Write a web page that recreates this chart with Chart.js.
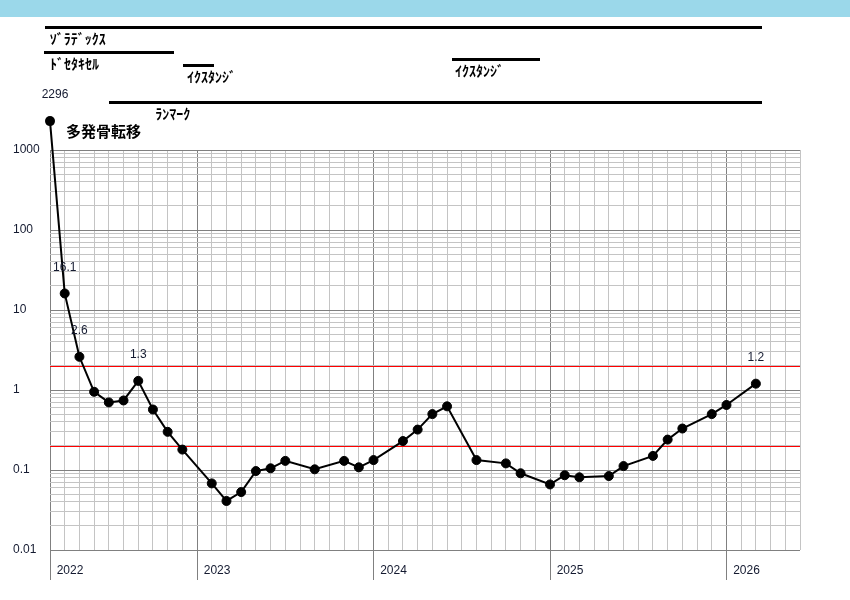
<!DOCTYPE html>
<html>
<head>
<meta charset="utf-8">
<script src="https://cdn.jsdelivr.net/npm/chart.js@4.4.1/dist/chart.umd.min.js"></script>
<style>
  body { margin: 0; background: #fff; }
  #wrap { width: 850px; height: 600px; }
</style>
</head>
<body>
<div id="wrap"><canvas id="chart" width="850" height="600"></canvas></div>
<script>
// months from the axis start (2022-03)
const startYear = 2022, startMonth = 3;
const dates = ['2022-03','2022-04','2022-05','2022-06','2022-07','2022-08','2022-09','2022-10','2022-11','2022-12',
  '2023-02','2023-03','2023-04','2023-05','2023-06','2023-07','2023-09','2023-11','2023-12',
  '2024-01','2024-03','2024-04','2024-05','2024-06','2024-08','2024-10','2024-11',
  '2025-01','2025-02','2025-03','2025-05','2025-06','2025-08','2025-09','2025-10','2025-12',
  '2026-01','2026-03'];
const psa = [2296, 16.1, 2.6, 0.95, 0.70, 0.74, 1.3, 0.57, 0.30, 0.18,
  0.068, 0.041, 0.053, 0.097, 0.105, 0.13, 0.102, 0.13, 0.108,
  0.133, 0.23, 0.32, 0.50, 0.625, 0.133, 0.121, 0.091,
  0.066, 0.086, 0.081, 0.084, 0.112, 0.15, 0.24, 0.33, 0.50,
  0.65, 1.2];
const labelled = [0, 1, 2, 6, 37];   // points with a value label
const refLevels = [2, 0.2];
const yDecades = [0.01, 0.1, 1, 10, 100, 1000];
const axisMonths = 51;

// treatments (start / end in months from axis start)
const txNames = ['ｿﾞﾗﾃﾞｯｸｽ', 'ﾄﾞｾﾀｷｾﾙ', 'ｲｸｽﾀﾝｼﾞ', 'ｲｸｽﾀﾝｼﾞ', 'ﾗﾝﾏｰｸ'];
const txStart = [-0.35, -0.4, 9.05, 27.33, 4.03];
const txEnd = [48.4, 8.43, 11.15, 33.32, 48.4];
const note = '多発骨転移';

function monthIndex(d) {
  const [y, m] = d.split('-').map(Number);
  return (y - startYear) * 12 + (m - startMonth);
}
function isYearTick(v) {
  return v === 0 || (v + startMonth - 1) % 12 === 0;
}
function isDecade(v) {
  const l = Math.log10(v);
  return Math.abs(l - Math.round(l)) < 1e-9;
}

const points = dates.map((d, i) => ({ x: monthIndex(d), y: psa[i] }));

const txRows = [27, 52, 65, 59, 102];
const txLabelDx = [5, 6, 4, 3, 46];

const overlay = {
  id: 'overlay',
  beforeDraw(chart) {
    const c = chart.ctx;
    c.save();
    c.fillStyle = '#9bd8ea';
    c.fillRect(0, 0, chart.width, 17);
    c.restore();
  },
  beforeDatasetsDraw(chart) {
    // reference lines
    const c = chart.ctx, y = chart.scales.y, a = chart.chartArea;
    c.save();
    c.strokeStyle = '#ff0000';
    c.lineWidth = 1;
    refLevels.forEach(v => {
      const py = Math.round(y.getPixelForValue(v)) + 0.5;
      c.beginPath();
      c.moveTo(a.left, py);
      c.lineTo(a.right, py);
      c.stroke();
    });
    c.restore();
  },
  afterDatasetsDraw(chart) {
    // points above the plot area are skipped by Chart.js, draw them here
    const c = chart.ctx, a = chart.chartArea;
    const meta = chart.getDatasetMeta(0);
    c.save();
    c.fillStyle = '#000';
    meta.data.forEach(p => {
      if (p.y < a.top) {
        c.beginPath();
        c.arc(p.x, p.y, 5, 0, Math.PI * 2);
        c.fill();
      }
    });
    c.restore();
  },
  afterDraw(chart) {
    const c = chart.ctx, x = chart.scales.x, y = chart.scales.y;
    c.save();
    // treatment bars
    c.fillStyle = '#000';
    c.font = 'bold 14px "Noto Sans CJK JP"';
    c.textBaseline = 'middle';
    c.textAlign = 'left';
    txNames.forEach((n, i) => {
      const x0 = x.getPixelForValue(txStart[i]);
      const x1 = x.getPixelForValue(txEnd[i]);
      c.fillRect(Math.round(x0), txRows[i] - 1, Math.round(x1 - x0), 3);
      c.fillText(n, x0 + txLabelDx[i], txRows[i] + 12);
    });
    c.font = 'bold 15px "Noto Sans CJK JP"';
    c.fillText(note, 66, 131);
    // value labels
    c.font = '12px "Liberation Sans", Arial';
    c.fillStyle = '#141a30';
    c.textAlign = 'center';
    labelled.forEach(i => {
      const px = x.getPixelForValue(points[i].x);
      const py = y.getPixelForValue(points[i].y);
      c.fillText(String(psa[i]), px + (i === 0 ? 5 : 0), py - 26);
    });
    c.restore();
  }
};

new Chart(document.getElementById('chart'), {
  type: 'line',
  data: {
    datasets: [{
      data: points,
      borderColor: '#000',
      borderWidth: 2,
      backgroundColor: '#000',
      pointRadius: 4.5,
      pointBorderWidth: 1,
      pointBackgroundColor: '#000',
      clip: false
    }]
  },
  options: {
    responsive: false,
    animation: false,
    layout: { padding: { top: 150, left: 13, right: 50, bottom: 0 } },
    plugins: { legend: { display: false }, tooltip: { enabled: false } },
    scales: {
      x: {
        type: 'linear',
        min: 0,
        max: axisMonths,
        afterBuildTicks: s => {
          const t = [];
          for (let m = 0; m <= axisMonths; m++) t.push({ value: m });
          s.ticks = t;
        },
        afterFit: s => { s.height = 50; },
        border: { display: false },
        grid: {
          color: ctx => isYearTick(ctx.tick.value) ? '#808080' : '#c4c4c4',
          tickColor: ctx => isYearTick(ctx.tick.value) ? '#808080' : 'rgba(0,0,0,0)',
          tickLength: 30,
          lineWidth: 1
        },
        ticks: {
          autoSkip: false,
          maxRotation: 0,
          align: 'start',
          padding: -17,
          color: '#141a30',
          font: { family: '"Liberation Sans", Arial', size: 12 },
          callback: v => isYearTick(v) ? '  ' + (startYear + Math.floor((v + startMonth - 1) / 12)) : ''
        }
      },
      y: {
        type: 'logarithmic',
        min: 0.01,
        max: 1000,
        afterBuildTicks: s => {
          const t = [];
          yDecades.forEach((d, i) => {
            if (i === yDecades.length - 1) { t.push({ value: d }); return; }
            for (let k = 1; k <= 9; k++) t.push({ value: k * d });
          });
          s.ticks = t;
        },
        afterFit: s => { s.width = 37; },
        border: { display: false },
        grid: {
          color: ctx => isDecade(ctx.tick.value) ? '#808080' : '#c4c4c4',
          drawTicks: false,
          lineWidth: 1
        },
        ticks: {
          autoSkip: false,
          crossAlign: 'far',
          padding: 10,
          color: '#141a30',
          font: { family: '"Liberation Sans", Arial', size: 12 },
          callback: v => isDecade(v) ? String(v) : ''
        }
      }
    }
  },
  plugins: [overlay]
});
</script>
</body>
</html>
